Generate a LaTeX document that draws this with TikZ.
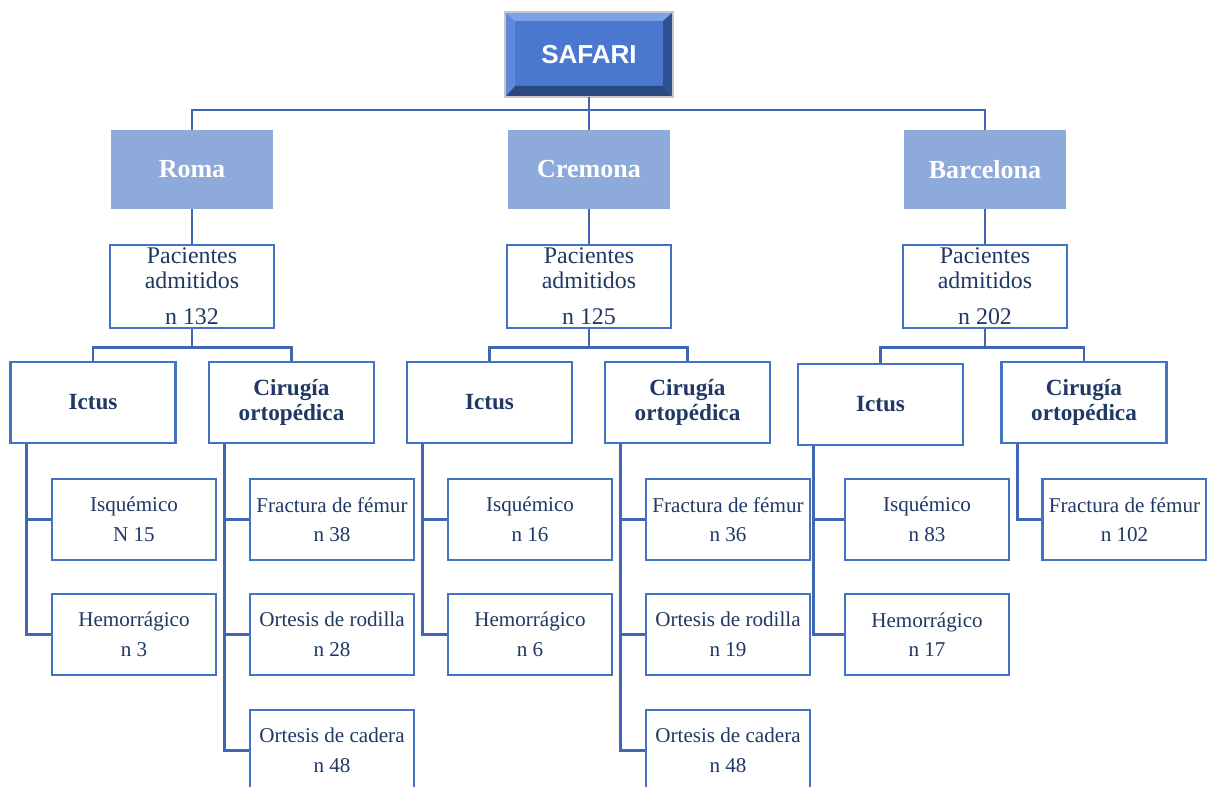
\documentclass[tikz,border=0pt]{standalone}
\usepackage{fontspec}
\setmainfont{Liberation Serif}
\newfontfamily\arialfont{Liberation Sans}
\usetikzlibrary{calc}

\definecolor{boxblue}{HTML}{4472C4}
\definecolor{lineblue}{HTML}{3F67B3}
\definecolor{cityblue}{HTML}{8EAADB}
\definecolor{navytext}{HTML}{1F3864}
\definecolor{faceblue}{HTML}{4A78CF}
\definecolor{bevlight}{HTML}{7DA2E8}
\definecolor{bevmid}{HTML}{5E89DA}
\definecolor{bevdark}{HTML}{2F5192}
\definecolor{bevdeep}{HTML}{2A4882}

\tikzset{
  conn/.style={draw=lineblue, line width=2.1pt},
  city/.style={fill=cityblue, text=white, minimum width=4.05cm, minimum height=1.975cm,
    inner sep=0pt, font=\bfseries\fontsize{18.5}{22}\selectfont},
  pac/.style={draw=boxblue, line width=1.9pt, fill=white, text=navytext, align=center,
    minimum width=4.1cm, minimum height=2.075cm, inner sep=0pt, font=\fontsize{17}{17.9}\selectfont},
  cat/.style={draw=boxblue, line width=1.9pt, fill=white, text=navytext, align=center,
    minimum width=4.125cm, minimum height=2.025cm, inner sep=0pt, font=\bfseries\fontsize{16.5}{17.7}\selectfont},
  leaf/.style={draw=boxblue, line width=1.9pt, fill=white, text=navytext, align=center,
    minimum width=4.1cm, minimum height=2.025cm, inner sep=0pt, font=\fontsize{15}{21}\selectfont}
}

\begin{document}
\begin{tikzpicture}[x=0.025cm, y=-0.025cm]
  \useasboundingbox (0,0) rectangle (1207,787);

  % bevelled title box
  \fill[faceblue] (515,21) rectangle (663,86);
  \fill[bevlight] (505,12) -- (673,12) -- (663,21) -- (515,21) -- cycle;
  \fill[bevmid] (505,12) -- (515,21) -- (515,86) -- (505,97) -- cycle;
  \fill[bevdark] (673,12) -- (673,97) -- (663,86) -- (663,21) -- cycle;
  \fill[bevdeep] (505,97) -- (673,97) -- (663,86) -- (515,86) -- cycle;
  \draw[gray!45, line width=0.8pt] (505,12) rectangle (673,97);
  \node (safari) at (589,54.5) [minimum width=4.2cm, minimum height=2.125cm, inner sep=0pt,
    text=white, font=\arialfont\bfseries\fontsize{18.5}{22}\selectfont] {SAFARI};

  % cities
  \node[city] (roma) at (192,169.5) {Roma};
  \node[city] (cremona) at (589,169.5) {Cremona};
  \node[city] (barcelona) at (985,169.5) {Barcelona};

  \node[pac] (pacR) at (192,286.5) {Pacientes\\admitidos\\[7.8pt]n 132};
  \node[pac] (pacC) at (589,286.5) {Pacientes\\admitidos\\[7.8pt]n 125};
  \node[pac] (pacB) at (985,286.5) {Pacientes\\admitidos\\[7.8pt]n 202};

  \node[cat] (ictR) at (93,402.5) {Ictus};
  \node[cat] (cirR) at (291.5,402.5) {Cirugía\\ortopédica};
  \node[cat] (ictC) at (489.5,402.5) {Ictus};
  \node[cat] (cirC) at (687.5,402.5) {Cirugía\\ortopédica};
  \node[cat] (ictB) at (880.5,404.5) {Ictus};
  \node[cat] (cirB) at (1084,402.5) {Cirugía\\ortopédica};

  % Roma
  \node[leaf] (isqR) at (134,519.5) {Isquémico\\N 15};
  \node[leaf] (hemR) at (134,634.5) {Hemorrágico\\n 3};
  \node[leaf] (femR) at (332,519.5) {Fractura de fémur\\n 38};
  \node[leaf] (rodR) at (332,634.5) {Ortesis de rodilla\\n 28};
  \node[leaf] (cadR) at (332,750.5) {Ortesis de cadera\\n 48};
  % Cremona
  \node[leaf] (isqC) at (530,519.5) {Isquémico\\n 16};
  \node[leaf] (hemC) at (530,634.5) {Hemorrágico\\n 6};
  \node[leaf] (femC) at (728,519.5) {Fractura de fémur\\n 36};
  \node[leaf] (rodC) at (728,634.5) {Ortesis de rodilla\\n 19};
  \node[leaf] (cadC) at (728,750.5) {Ortesis de cadera\\n 48};
  % Barcelona
  \node[leaf] (isqB) at (927,519.5) {Isquémico\\n 83};
  \node[leaf] (hemB) at (927,634.5) {Hemorrágico\\n 17};
  \node[leaf] (femB) at (1124.5,519.5) {Fractura de fémur\\n 102};

  % connectors
  \coordinate (bus) at (589,110);
  \draw[conn] (safari) -- (bus);
  \draw[conn] (bus) -| (roma);
  \draw[conn] (bus) -- (cremona);
  \draw[conn] (bus) -| (barcelona);

  \foreach \c in {R,C,B} {
    \draw[conn] (pac\c.south) -- ++(0,18) -| (ict\c);
    \draw[conn] (pac\c.south) -- ++(0,18) -| (cir\c);
  }
  \draw[conn] (roma) -- (pacR);
  \draw[conn] (cremona) -- (pacC);
  \draw[conn] (barcelona) -- (pacB);

  \foreach \c in {R,C,B} {
    \draw[conn] ($(ict\c.south west)+(17,0)$) |- (isq\c);
    \draw[conn] ($(ict\c.south west)+(17,0)$) |- (hem\c);
    \draw[conn] ($(cir\c.south west)+(17,0)$) |- (fem\c);
  }
  \foreach \c in {R,C} {
    \draw[conn] ($(cir\c.south west)+(17,0)$) |- (rod\c);
    \draw[conn] ($(cir\c.south west)+(17,0)$) |- (cad\c);
  }
\end{tikzpicture}
\end{document}
